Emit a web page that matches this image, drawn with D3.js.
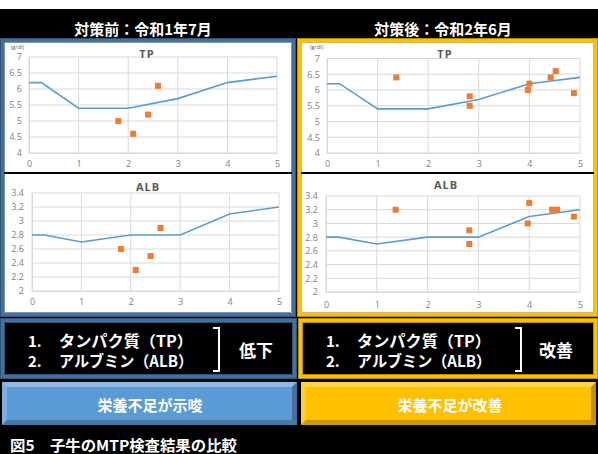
<!DOCTYPE html>
<html><head><meta charset="utf-8">
<script src="https://cdn.jsdelivr.net/npm/d3@7"></script>
<style>html,body{margin:0;padding:0;background:#fff;}svg{display:block;}</style>
</head><body>
<script>
// ---- data ----
const xTicks = [0, 1, 2, 3, 4, 5];
const tpTicks = [4, 4.5, 5, 5.5, 6, 6.5, 7];
const albTicks = [2, 2.2, 2.4, 2.6, 2.8, 3, 3.2, 3.4];
const refX = [0, 0.25, 1, 2, 3, 4, 5];
const refTP = [6.2, 6.2, 5.4, 5.4, 5.7, 6.2, 6.4];
const refALB = [2.8, 2.8, 2.7, 2.8, 2.8, 3.1, 3.2];
const beforeX = [1.8, 2.1, 2.4, 2.6];
const beforeTP = [5.0, 4.6, 5.2, 6.1];
const beforeALB = [2.6, 2.3, 2.5, 2.9];
const afterXTP = [1.37, 2.82, 2.82, 3.97, 4.0, 4.42, 4.52, 4.88];
const afterTP = [6.4, 5.8, 5.5, 6.0, 6.2, 6.4, 6.6, 5.9];
const afterXALB = [1.37, 2.82, 2.82, 3.97, 4.0, 4.45, 4.55, 4.88];
const afterALB = [3.2, 2.9, 2.7, 3.0, 3.3, 3.2, 3.2, 3.1];
const titles = ["対策前：令和1年7月", "対策後：令和2年6月"];
const chartTitles = ["TP", "ALB"];
const unitLabel = "(g/dl)";
const infoLines = ["タンパク質（TP）", "アルブミン（ALB）"];
const verdicts = ["低下", "改善"];
const buttons = ["栄養不足が示唆", "栄養不足が改善"];
const caption = "図5　子牛のMTP検査結果の比較";

const W = 598, H = 454;
const JP = "'Noto Sans CJK JP','Noto Sans',sans-serif";
const svg = d3.select("body").append("svg").attr("width", W).attr("height", H);

svg.append("rect").attr("width", W).attr("height", H).attr("fill", "#000");
svg.append("rect").attr("width", W).attr("height", 9).attr("fill", "#fff");

// titles
[[143, titles[0]], [443, titles[1]]].forEach(([x, t]) => {
  svg.append("text").attr("x", x).attr("y", 28).attr("text-anchor", "middle")
    .attr("dominant-baseline", "central").attr("fill", "#fff")
    .attr("font-family", JP).attr("font-weight", 700).attr("font-size", 15).text(t);
});

// panels
function panel(x, y, w, h, color, edge) {
  svg.append("rect").attr("x", x).attr("y", y).attr("width", w).attr("height", h).attr("fill", "#fff");
  svg.append("rect").attr("x", x + 2).attr("y", y + 2).attr("width", w - 4).attr("height", h - 4)
    .attr("fill", "none").attr("stroke", color).attr("stroke-width", 4);
  svg.append("rect").attr("x", x + 0.5).attr("y", y + 0.5).attr("width", w - 1).attr("height", h - 1)
    .attr("fill", "none").attr("stroke", edge).attr("stroke-width", 1);
  svg.append("rect").attr("x", x + 4.5).attr("y", y + 4.5).attr("width", w - 9).attr("height", h - 9)
    .attr("fill", "none").attr("stroke", edge).attr("stroke-width", 0.6);
}
panel(0, 38, 296, 279, "#41719C", "#2F5276");
panel(297, 38, 301, 279, "#FFC000", "#B88A00");
// separators between TP and ALB
svg.append("rect").attr("x", 4).attr("y", 172).attr("width", 288).attr("height", 2).attr("fill", "#000");
svg.append("rect").attr("x", 301).attr("y", 172).attr("width", 293).attr("height", 2).attr("fill", "#000");

function chart(cfg) {
  const x = d3.scaleLinear().domain([0, 5]).range(cfg.xr);
  const y = d3.scaleLinear().domain(cfg.yd).range(cfg.yr);
  const g = svg.append("g");
  // grid
  g.selectAll(".vg").data(xTicks).join("line")
    .attr("x1", d => x(d)).attr("x2", d => x(d)).attr("y1", cfg.yr[0]).attr("y2", cfg.yr[1])
    .attr("stroke", "#D9D9D9").attr("stroke-width", 1);
  g.selectAll(".hg").data(cfg.ticks).join("line")
    .attr("x1", cfg.xr[0]).attr("x2", cfg.xr[1]).attr("y1", d => y(d)).attr("y2", d => y(d))
    .attr("stroke", "#D9D9D9").attr("stroke-width", 1);
  // axes
  const ax = g.append("g").attr("transform", `translate(0,${cfg.yr[0]})`)
    .call(d3.axisBottom(x).tickValues(xTicks).tickSize(0).tickPadding(cfg.xpad).tickFormat(d3.format("d")));
  const ay = g.append("g").attr("transform", `translate(${cfg.xr[0]},0)`)
    .call(d3.axisLeft(y).tickValues(cfg.ticks).tickSize(0).tickPadding(cfg.ypad).tickFormat(d => String(d)));
  [ax, ay].forEach(a => {
    a.select(".domain").attr("stroke", "#D9D9D9");
    a.selectAll("text").attr("fill", "#7F7F7F").attr("font-family", "'Open Sans',sans-serif").attr("font-size", 9);
  });
  // line
  g.append("path").datum(refX.map((d, i) => [d, cfg.line[i]]))
    .attr("d", d3.line().x(d => x(d[0])).y(d => y(d[1])))
    .attr("fill", "none").attr("stroke", "#5B9BD5").attr("stroke-width", 1.6);
  // markers
  g.selectAll(".pt").data(cfg.px.map((d, i) => [d, cfg.py[i]])).join("rect")
    .attr("x", d => x(d[0]) - 3).attr("y", d => y(d[1]) - 3).attr("width", 6).attr("height", 6)
    .attr("fill", "#ED7D31");
  // title
  g.append("text").attr("x", cfg.tx).attr("y", cfg.ty).attr("text-anchor", "middle")
    .attr("dominant-baseline", "central").attr("fill", "#595959")
    .attr("font-family", "'Open Sans',sans-serif").attr("font-weight", 700).attr("font-size", 11)
    .attr("letter-spacing", 1).text(cfg.title);
  if (cfg.unit) {
    g.append("text").attr("x", cfg.ux).attr("y", 49).attr("fill", "#595959")
      .attr("font-family", "'Open Sans',sans-serif").attr("font-size", 5.5).text(unitLabel);
  }
}

chart({xr: [29, 277], yr: [153, 57], yd: [4, 7], ticks: tpTicks, line: refTP, px: beforeX, py: beforeTP,
  title: chartTitles[0], tx: 147, ty: 53, xpad: 8, ypad: 7, unit: true, ux: 11});
chart({xr: [327, 580], yr: [153, 58.5], yd: [4, 7], ticks: tpTicks, line: refTP, px: afterXTP, py: afterTP,
  title: chartTitles[0], tx: 445, ty: 53, xpad: 8, ypad: 7, unit: true, ux: 310});
chart({xr: [32, 279], yr: [291, 193], yd: [2, 3.4], ticks: albTicks, line: refALB, px: beforeX, py: beforeALB,
  title: chartTitles[1], tx: 148, ty: 186, xpad: 8, ypad: 8, unit: false});
chart({xr: [326, 580], yr: [292, 196], yd: [2, 3.4], ticks: albTicks, line: refALB, px: afterXALB, py: afterALB,
  title: chartTitles[1], tx: 446, ty: 184, xpad: 10, ypad: 8, unit: false});

// info boxes
function infoBox(x0, w, color, edge, brX, vx, verdict) {
  svg.append("rect").attr("x", x0 + 2).attr("y", 320).attr("width", w - 4).attr("height", 57)
    .attr("fill", "#000").attr("stroke", color).attr("stroke-width", 4);
  svg.append("rect").attr("x", x0 + 0.5).attr("y", 318.5).attr("width", w - 1).attr("height", 60)
    .attr("fill", "none").attr("stroke", edge).attr("stroke-width", 1);
  svg.append("rect").attr("x", x0 + 4.5).attr("y", 322.5).attr("width", w - 9).attr("height", 52)
    .attr("fill", "none").attr("stroke", edge).attr("stroke-width", 1);
  const t = (x, y, s, size, extra) => {
    const e = svg.append("text").attr("x", x).attr("y", y).attr("dominant-baseline", "central")
      .attr("fill", "#fff").attr("font-family", JP).attr("font-weight", 700).attr("font-size", size).text(s);
    if (extra) extra(e);
    return e;
  };
  t(x0 + 28, 340, "1.", 15);
  t(x0 + 28, 360, "2.", 15);
  t(x0 + 59, 340, infoLines[0], 15.5, e => e.attr("textLength", 134).attr("lengthAdjust", "spacingAndGlyphs"));
  t(x0 + 59, 360, infoLines[1], 15.5, e => e.attr("textLength", 134).attr("lengthAdjust", "spacingAndGlyphs"));
  svg.append("path").attr("d", `M${brX - 6},328 H${brX} V371 H${brX - 6}`)
    .attr("fill", "none").attr("stroke", "#fff").attr("stroke-width", 2);
  t(vx, 349, verdict, 17, e => e.attr("text-anchor", "middle"));
}
infoBox(0, 297, "#41719C", "#2F5276", 219, 256, verdicts[0]);
infoBox(298, 300, "#FFC000", "#B88A00", 521, 556, verdicts[1]);

// buttons (bevel)
function button(x0, w, fill, light, dark, label, cx) {
  const y0 = 382, h = 43, b = 5;
  svg.append("rect").attr("x", x0).attr("y", y0).attr("width", w).attr("height", h).attr("fill", fill);
  svg.append("polygon").attr("points", `${x0},${y0} ${x0 + w},${y0} ${x0 + w - b},${y0 + b} ${x0 + b},${y0 + b}`).attr("fill", light);
  svg.append("polygon").attr("points", `${x0},${y0} ${x0 + b},${y0 + b} ${x0 + b},${y0 + h - b} ${x0},${y0 + h}`).attr("fill", light).attr("opacity", 0.7);
  svg.append("polygon").attr("points", `${x0 + w},${y0} ${x0 + w},${y0 + h} ${x0 + w - b},${y0 + h - b} ${x0 + w - b},${y0 + b}`).attr("fill", dark);
  svg.append("polygon").attr("points", `${x0},${y0 + h} ${x0 + w},${y0 + h} ${x0 + w - b},${y0 + h - b} ${x0 + b},${y0 + h - b}`).attr("fill", dark).attr("opacity", 0.8);
  svg.append("text").attr("x", cx).attr("y", 404).attr("text-anchor", "middle").attr("dominant-baseline", "central")
    .attr("fill", "#fff").attr("font-family", JP).attr("font-weight", 700).attr("font-size", 15).text(label);
}
button(2, 295, "#5B9BD5", "#8FB8E3", "#41719C", buttons[0], 150);
button(301, 295, "#FFC000", "#FFD34D", "#BF9000", buttons[1], 450);

// caption
svg.append("text").attr("x", 10).attr("y", 444).attr("dominant-baseline", "central")
  .attr("fill", "#fff").attr("font-family", JP).attr("font-weight", 700).attr("font-size", 15)
  .attr("textLength", 227).attr("lengthAdjust", "spacingAndGlyphs").text(caption);
</script>
</body></html>
